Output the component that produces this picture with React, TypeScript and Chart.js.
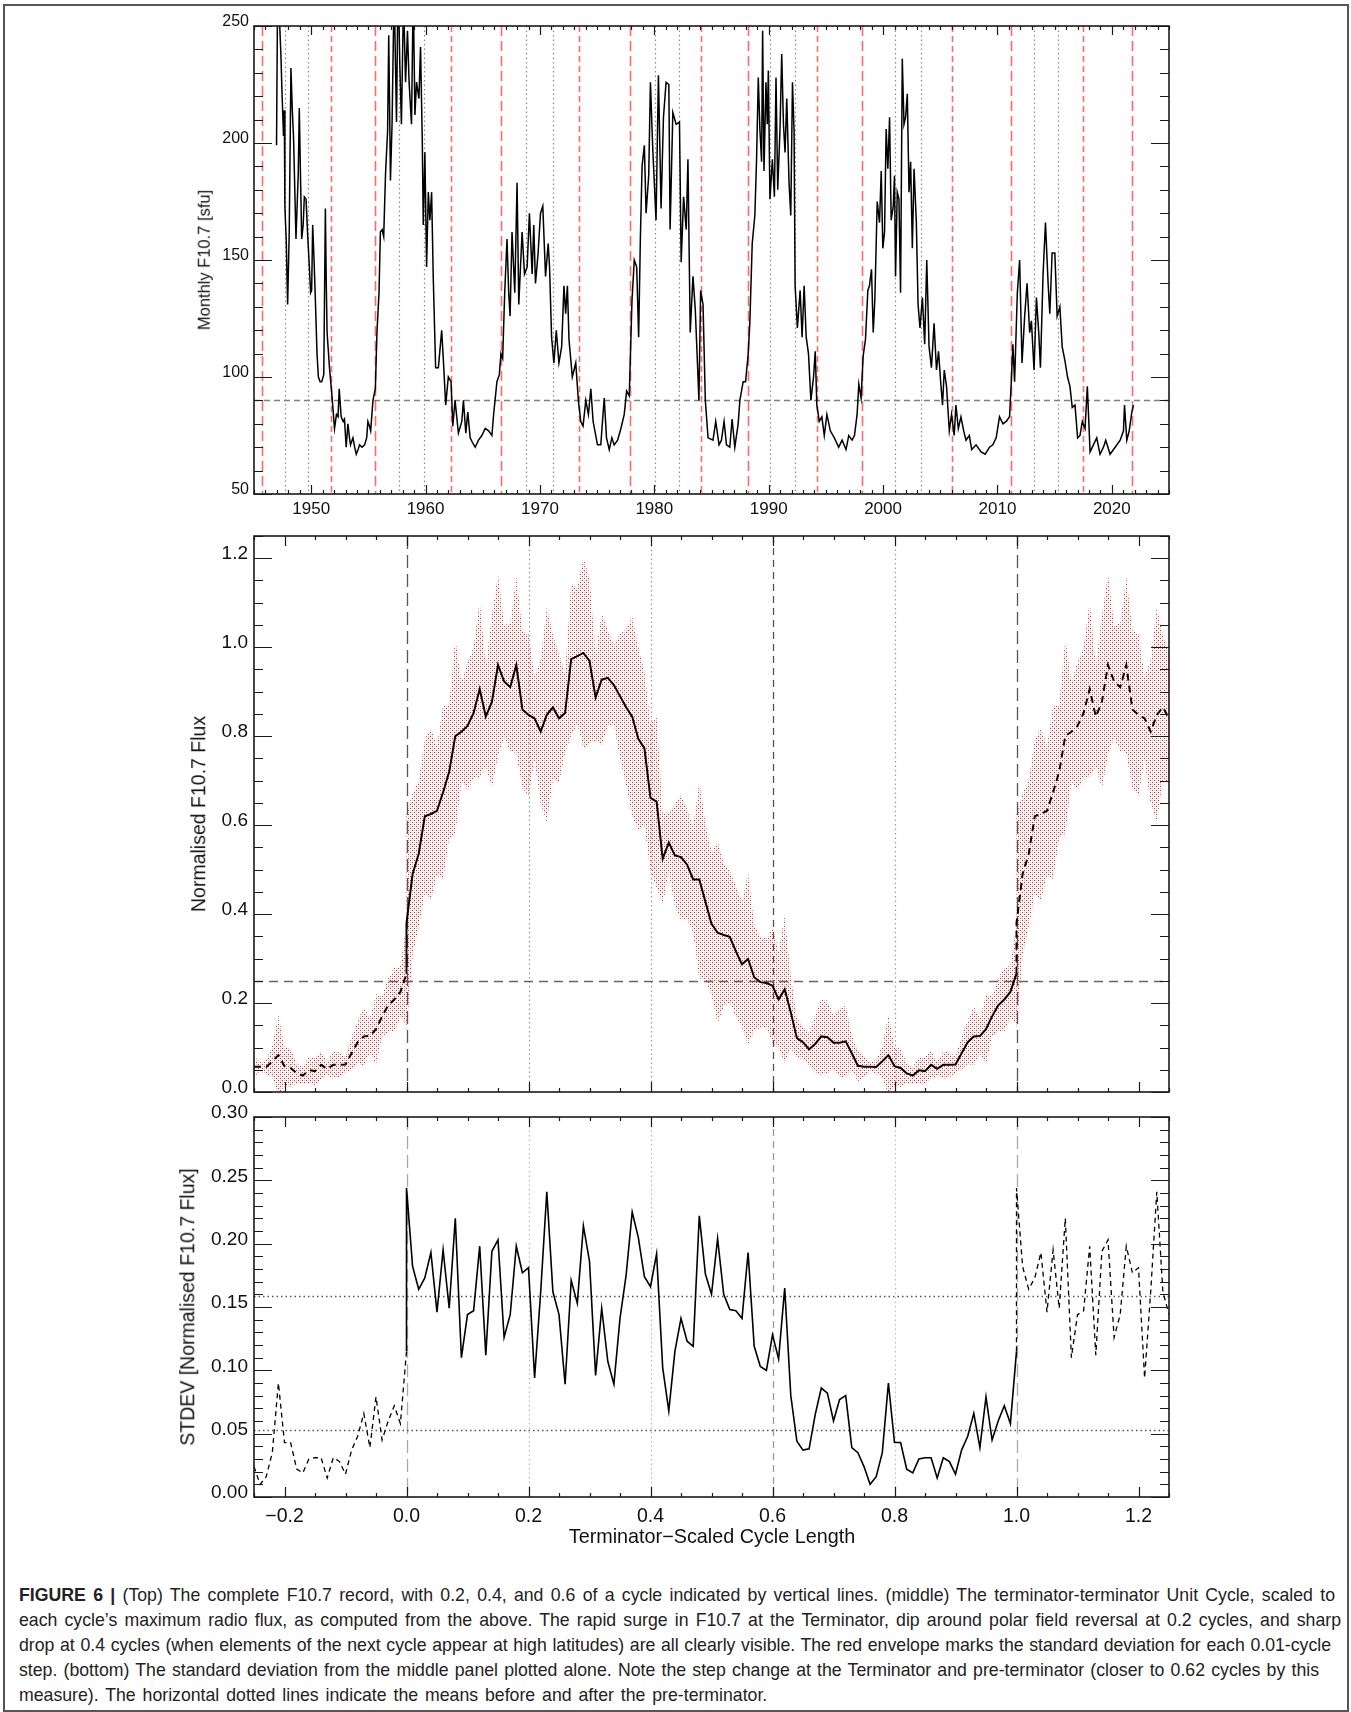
import React, { useEffect, useRef } from 'react';
import { Chart, registerables } from 'chart.js';

Chart.register(...registerables);

// ---------------- DATA ----------------
// Top panel: monthly F10.7 record
const f107Year = [
  1946.97, 1947.06, 1947.2, 1947.35, 1947.44, 1947.58, 1947.65, 1947.7, 1947.82, 1947.94,
  1948.08, 1948.23, 1948.35, 1948.46, 1948.67, 1948.87, 1948.96, 1949.05, 1949.17, 1949.3,
  1949.4, 1949.55, 1949.7, 1949.84, 1949.95, 1950.04, 1950.13, 1950.25, 1950.34, 1950.51,
  1950.63, 1950.78, 1950.92, 1951.1, 1951.24, 1951.32, 1951.39, 1951.6, 1951.8, 1952.04,
  1952.21, 1952.35, 1952.45, 1952.62, 1952.8, 1952.91, 1953.06, 1953.21, 1953.35, 1953.44,
  1953.65, 1953.8, 1953.94, 1954.1, 1954.23, 1954.45, 1954.67, 1954.85, 1954.96, 1955.1,
  1955.2, 1955.4, 1955.61, 1955.75, 1955.93, 1956.05, 1956.2, 1956.34, 1956.5, 1956.68,
  1956.78, 1956.93, 1957.07, 1957.25, 1957.46, 1957.6, 1957.75, 1957.89, 1958.07, 1958.25,
  1958.42, 1958.56, 1958.77, 1958.92, 1959.07, 1959.21, 1959.42, 1959.56, 1959.71, 1959.8,
  1959.94, 1960.09, 1960.24, 1960.38, 1960.53, 1960.67, 1960.88, 1961.12, 1961.41, 1961.56,
  1961.76, 1961.99, 1962.23, 1962.38, 1962.58, 1962.87, 1963.17, 1963.31, 1963.52, 1963.69,
  1963.9, 1964.1, 1964.34, 1964.63, 1964.92, 1965.22, 1965.51, 1965.8, 1965.95, 1966.24,
  1966.45, 1966.59, 1966.74, 1966.92, 1967.12, 1967.27, 1967.39, 1967.56, 1967.8, 1968.0,
  1968.15, 1968.44, 1968.65, 1968.88, 1969.08, 1969.32, 1969.46, 1969.61, 1969.84, 1970.05,
  1970.25, 1970.49, 1970.72, 1970.84, 1971.02, 1971.22, 1971.43, 1971.66, 1971.9, 1972.1,
  1972.25, 1972.4, 1972.54, 1972.83, 1973.13, 1973.36, 1973.57, 1973.77, 1974.01, 1974.24,
  1974.45, 1974.65, 1975.03, 1975.32, 1975.62, 1975.82, 1976.06, 1976.29, 1976.49, 1976.79,
  1977.08, 1977.37, 1977.58, 1977.81, 1978.05, 1978.25, 1978.46, 1978.63, 1978.78, 1978.93,
  1979.13, 1979.28, 1979.51, 1979.66, 1979.86, 1980.15, 1980.36, 1980.59, 1980.8, 1981.03,
  1981.27, 1981.38, 1981.62, 1981.91, 1982.2, 1982.35, 1982.56, 1982.79, 1982.94, 1983.14,
  1983.38, 1983.58, 1983.73, 1983.9, 1984.05, 1984.26, 1984.46, 1984.7, 1985.13, 1985.37,
  1985.66, 1985.87, 1986.1, 1986.31, 1986.6, 1986.8, 1987.04, 1987.33, 1987.48, 1987.77,
  1987.98, 1988.21, 1988.35, 1988.56, 1988.79, 1988.94, 1989.09, 1989.23, 1989.38, 1989.47,
  1989.59, 1989.76, 1989.88, 1989.97, 1990.11, 1990.32, 1990.5, 1990.64, 1990.79, 1990.99,
  1991.14, 1991.29, 1991.43, 1991.58, 1991.78, 1991.93, 1992.08, 1992.22, 1992.31, 1992.51,
  1992.75, 1992.92, 1993.1, 1993.28, 1993.48, 1993.69, 1993.92, 1994.07, 1994.21, 1994.42,
  1994.65, 1994.86, 1995.09, 1995.39, 1995.74, 1996.12, 1996.42, 1996.76, 1997.0, 1997.29,
  1997.5, 1997.73, 1997.88, 1998.08, 1998.26, 1998.46, 1998.67, 1998.81, 1998.99, 1999.14,
  1999.28, 1999.49, 1999.69, 1999.84, 1999.98, 2000.13, 2000.27, 2000.42, 2000.57, 2000.71,
  2000.89, 2001.0, 2001.09, 2001.24, 2001.39, 2001.53, 2001.68, 2001.83, 2001.97, 2002.12,
  2002.27, 2002.41, 2002.56, 2002.71, 2002.91, 2003.06, 2003.23, 2003.44, 2003.64, 2003.82,
  2004.02, 2004.23, 2004.46, 2004.67, 2004.85, 2005.05, 2005.2, 2005.35, 2005.55, 2005.79,
  2005.99, 2006.22, 2006.37, 2006.58, 2006.81, 2007.05, 2007.25, 2007.54, 2007.75, 2008.13,
  2008.57, 2008.93, 2009.31, 2009.6, 2009.89, 2010.18, 2010.48, 2010.77, 2011.06, 2011.21,
  2011.35, 2011.5, 2011.74, 2011.94, 2012.15, 2012.38, 2012.59, 2012.82, 2012.97, 2013.2,
  2013.41, 2013.61, 2013.76, 2013.99, 2014.2, 2014.43, 2014.58, 2014.78, 2015.02, 2015.22,
  2015.46, 2015.66, 2015.9, 2016.13, 2016.34, 2016.54, 2016.78, 2017.01, 2017.22, 2017.42,
  2017.66, 2017.86, 2018.1, 2018.39, 2018.68, 2018.97, 2019.27, 2019.47, 2019.85, 2020.29,
  2020.73, 2021.02, 2021.11, 2021.31, 2021.52, 2021.75, 2021.9,
];
const f107Flux = [
  199, 262, 256, 238, 223, 203, 214, 173, 158, 131,
  162, 232, 214, 202, 159, 187, 215, 190, 159, 165,
  177, 176, 160, 147, 136, 137, 165, 150, 137, 110,
  100, 98, 98, 101, 172, 140, 119, 104, 93, 78,
  84, 83, 95, 83, 81, 82, 70, 80, 74, 71,
  74, 70, 67, 69, 71, 70, 71, 74, 81, 79,
  77, 90, 95, 119, 136, 162, 163, 160, 187, 205,
  246, 184, 208, 266, 209, 272, 233, 208, 262, 226,
  248, 226, 208, 265, 212, 226, 219, 241, 202, 165,
  196, 147, 179, 167, 179, 143, 104, 104, 120, 107,
  88, 100, 98, 79, 90, 76, 81, 90, 76, 85,
  74, 72, 70, 73, 75, 78, 77, 75, 84, 98,
  101, 110, 108, 136, 159, 136, 126, 162, 136, 183,
  131, 162, 144, 147, 170, 144, 165, 140, 153, 170,
  173, 143, 157, 147, 117, 106, 120, 106, 113, 139,
  127, 139, 116, 100, 106, 90, 81, 79, 90, 84,
  95, 81, 71, 71, 91, 74, 69, 74, 71, 73,
  78, 84, 94, 92, 133, 150, 147, 117, 159, 190,
  199, 170, 186, 226, 198, 167, 229, 172, 211, 226,
  225, 163, 213, 208, 209, 149, 177, 163, 193, 119,
  143, 129, 111, 90, 137, 131, 90, 74, 73, 81,
  71, 73, 81, 71, 70, 82, 70, 80, 90, 98,
  98, 110, 123, 157, 169, 193, 228, 206, 192, 248,
  188, 226, 208, 231, 176, 193, 177, 228, 180, 206,
  238, 208, 196, 219, 183, 169, 226, 205, 139, 121,
  137, 117, 139, 117, 110, 90, 100, 111, 88, 81,
  83, 75, 84, 77, 74, 70, 73, 69, 75, 73,
  75, 84, 97, 91, 109, 116, 137, 139, 146, 119,
  133, 175, 166, 188, 155, 162, 206, 189, 211, 167,
  173, 186, 143, 179, 176, 136, 236, 208, 211, 221,
  179, 192, 155, 189, 166, 131, 121, 134, 114, 150,
  113, 104, 123, 103, 111, 97, 88, 103, 96, 77,
  84, 75, 88, 78, 83, 77, 73, 75, 69, 71,
  68, 67, 70, 71, 74, 83, 80, 81, 83, 98,
  114, 98, 136, 150, 106, 126, 140, 119, 124, 103,
  134, 119, 104, 144, 166, 140, 127, 153, 153, 126,
  130, 113, 107, 100, 96, 87, 88, 74, 75, 81,
  78, 96, 68, 71, 74, 67, 70, 73, 67, 70,
  73, 77, 88, 73, 77, 85, 88,
];
const terminatorYears = [1945.7, 1955.6, 1966.6, 1977.9, 1988.2, 1998.2, 2011.2, 2021.8];
const preTerminatorYears = [1951.7, 1962.2, 1973.4, 1984.1, 1994.2, 2006.0, 2017.5];
const cycleFractionYears = [1947.7, 1949.7, 1957.7, 1959.9, 1968.8, 1971.1, 1980.1, 1982.2, 1990.1, 1992.3, 2001.0, 2003.3, 2013.2, 2015.3];
const fluxReferenceLevel = 90;
const yearTicks = [1950, 1960, 1970, 1980, 1990, 2000, 2010, 2020];
const fluxTicks = [50, 100, 150, 200, 250];

// Middle + bottom panels: unit cycle, 0.01-cycle steps from 0.00 to 1.00
const phaseStep = 0.01;
const unitCycleMean = [
  0.38, 0.49, 0.535, 0.62, 0.625, 0.632, 0.674, 0.72, 0.80, 0.81,
  0.823, 0.852, 0.906, 0.844, 0.877, 0.96, 0.923, 0.91, 0.96, 0.86,
  0.848, 0.84, 0.81, 0.848, 0.865, 0.84, 0.852, 0.973, 0.98, 0.987,
  0.969, 0.887, 0.927, 0.931, 0.915, 0.89, 0.865, 0.844, 0.794, 0.773,
  0.661, 0.653, 0.524, 0.561, 0.532, 0.528, 0.511, 0.478, 0.478, 0.428,
  0.378, 0.358, 0.353, 0.349, 0.316, 0.287, 0.299, 0.258, 0.247, 0.245,
  0.239, 0.208, 0.231, 0.179, 0.121, 0.112, 0.096, 0.108, 0.125, 0.123,
  0.111, 0.111, 0.114, 0.087, 0.059, 0.057, 0.057, 0.056, 0.069, 0.083,
  0.058, 0.054, 0.042, 0.037, 0.049, 0.047, 0.061, 0.052, 0.061, 0.061,
  0.062, 0.087, 0.112, 0.125, 0.126, 0.141, 0.17, 0.195, 0.208, 0.225,
  0.266,
];
const unitCycleStd = [
  0.244, 0.182, 0.164, 0.173, 0.193, 0.146, 0.195, 0.149, 0.220, 0.110,
  0.144, 0.147, 0.198, 0.112, 0.194, 0.203, 0.126, 0.144, 0.198, 0.177,
  0.181, 0.094, 0.162, 0.241, 0.162, 0.144, 0.089, 0.171, 0.153, 0.214,
  0.186, 0.096, 0.149, 0.107, 0.089, 0.141, 0.175, 0.225, 0.205, 0.174,
  0.166, 0.192, 0.102, 0.068, 0.115, 0.141, 0.123, 0.119, 0.222, 0.176,
  0.160, 0.204, 0.160, 0.148, 0.147, 0.141, 0.193, 0.119, 0.103, 0.100,
  0.128, 0.109, 0.165, 0.080, 0.044, 0.037, 0.038, 0.065, 0.086, 0.082,
  0.060, 0.077, 0.080, 0.039, 0.035, 0.024, 0.010, 0.016, 0.035, 0.090,
  0.043, 0.043, 0.022, 0.019, 0.030, 0.031, 0.031, 0.015, 0.031, 0.028,
  0.018, 0.037, 0.048, 0.066, 0.039, 0.079, 0.045, 0.060, 0.072, 0.058,
  0.115,
];
const stdMeanBeforePreTerminator = 0.159;
const stdMeanAfterPreTerminator = 0.053;
const normalisedReferenceLevel = 0.25;
const phaseTicks = [-0.2, 0, 0.2, 0.4, 0.6, 0.8, 1.0, 1.2];
const normalisedTicks = [0, 0.2, 0.4, 0.6, 0.8, 1.0, 1.2];
const stdTicks = [0, 0.05, 0.1, 0.15, 0.2, 0.25, 0.3];
const terminatorPhases = [0, 1.0];
const preTerminatorPhases = [0.6];
const fractionPhases = [0.2, 0.4, 0.8];

const captionLines = [
  '(Top) The complete F10.7 record, with 0.2, 0.4, and 0.6 of a cycle indicated by vertical lines. (middle) The terminator-terminator Unit Cycle, scaled to',
  'each cycle\u2019s maximum radio flux, as computed from the above. The rapid surge in F10.7 at the Terminator, dip around polar field reversal at 0.2 cycles, and sharp',
  'drop at 0.4 cycles (when elements of the next cycle appear at high latitudes) are all clearly visible. The red envelope marks the standard deviation for each 0.01-cycle',
  'step. (bottom) The standard deviation from the middle panel plotted alone. Note the step change at the Terminator and pre-terminator (closer to 0.62 cycles by this',
  'measure). The horizontal dotted lines indicate the means before and after the pre-terminator.',
];

// ---------------- HELPERS ----------------
const FONT = '"Liberation Sans", Arial, Helvetica, sans-serif';

interface RefLine { value: number; color: string; dash: number[]; width: number }
interface FrameCfg {
  xMajor: number[]; xMinor: number[]; yMajor: number[]; yMinor: number[];
  xMajorLen: number; xMinorLen: number; yMajorLen: number; yMinorLen: number;
  vlines: RefLine[]; hlines: RefLine[];
}

function range(start: number, end: number, step: number): number[] {
  const out: number[] = [];
  const n = Math.round((end - start) / step);
  for (let i = 0; i <= n; i++) out.push(Math.round((start + i * step) * 1000) / 1000);
  return out;
}

function makeFramePlugin(cfg: FrameCfg) {
  return {
    id: 'idlFrame',
    beforeDatasetsDraw(chart: any) {
      const { ctx, chartArea: a } = chart;
      const xs = chart.scales.x, ys = chart.scales.y;
      ctx.save();
      ctx.beginPath();
      ctx.rect(a.left, a.top, a.right - a.left, a.bottom - a.top);
      ctx.clip();
      for (const l of cfg.vlines) {
        const px = Math.round(xs.getPixelForValue(l.value)) + 0.5;
        ctx.beginPath();
        ctx.strokeStyle = l.color; ctx.lineWidth = l.width; ctx.setLineDash(l.dash);
        ctx.moveTo(px, a.top); ctx.lineTo(px, a.bottom); ctx.stroke();
      }
      for (const l of cfg.hlines) {
        const py = Math.round(ys.getPixelForValue(l.value)) + 0.5;
        ctx.beginPath();
        ctx.strokeStyle = l.color; ctx.lineWidth = l.width; ctx.setLineDash(l.dash);
        ctx.moveTo(a.left, py); ctx.lineTo(a.right, py); ctx.stroke();
      }
      ctx.restore();
    },
    afterDatasetsDraw(chart: any) {
      const { ctx, chartArea: a } = chart;
      const xs = chart.scales.x, ys = chart.scales.y;
      ctx.save();
      ctx.setLineDash([]);
      ctx.strokeStyle = '#1a1a1a';
      ctx.lineWidth = 1.2;
      ctx.beginPath();
      const xt = (vals: number[], len: number) => {
        for (const v of vals) {
          const px = Math.round(xs.getPixelForValue(v)) + 0.5;
          ctx.moveTo(px, a.bottom); ctx.lineTo(px, a.bottom - len);
          ctx.moveTo(px, a.top); ctx.lineTo(px, a.top + len);
        }
      };
      const yt = (vals: number[], len: number) => {
        for (const v of vals) {
          const py = Math.round(ys.getPixelForValue(v)) + 0.5;
          ctx.moveTo(a.left, py); ctx.lineTo(a.left + len, py);
          ctx.moveTo(a.right, py); ctx.lineTo(a.right - len, py);
        }
      };
      xt(cfg.xMajor, cfg.xMajorLen); xt(cfg.xMinor, cfg.xMinorLen);
      yt(cfg.yMajor, cfg.yMajorLen); yt(cfg.yMinor, cfg.yMinorLen);
      ctx.stroke();
      ctx.lineWidth = 1.6;
      ctx.strokeRect(a.left, a.top, a.right - a.left, a.bottom - a.top);
      ctx.restore();
    },
  };
}

interface AxisSpec {
  min: number; max: number; ticks: number[]; fmt: (v: number) => string;
  size: number; font: number; padding: number; labelOffset: number; show: boolean;
}
function linearAxis(horizontal: boolean, s: AxisSpec): any {
  return {
    type: 'linear',
    position: horizontal ? 'bottom' : 'left',
    min: s.min, max: s.max,
    grid: { display: false, drawTicks: false },
    border: { display: false },
    afterBuildTicks: (scale: any) => { scale.ticks = s.ticks.map((v) => ({ value: v })); },
    afterFit: (scale: any) => { if (horizontal) scale.height = s.size; else scale.width = s.size; },
    ticks: {
      display: s.show, autoSkip: false, maxRotation: 0, minRotation: 0,
      padding: s.padding, labelOffset: s.labelOffset, color: '#111',
      font: { family: FONT, size: s.font },
      callback: (v: any) => s.fmt(Number(v)),
    },
  };
}

const phaseAt = (i: number, shift: number) => Math.round((i * phaseStep + shift) * 100) / 100;
function segment(vals: number[], from: number, to: number, shift: number) {
  const out: { x: number; y: number }[] = [];
  for (let i = from; i <= to; i++) out.push({ x: phaseAt(i, shift), y: vals[i] });
  return out;
}
// Points of the unit cycle repeated on both sides: (index, shift)
function wrappedIndices(): [number, number][] {
  const out: [number, number][] = [];
  for (let i = 75; i <= 100; i++) out.push([i, -1]);
  for (let i = 0; i <= 100; i++) out.push([i, 0]);
  for (let i = 0; i <= 25; i++) out.push([i, 1]);
  return out;
}

function makeStipple(ctx: CanvasRenderingContext2D): CanvasPattern | string {
  const pc = document.createElement('canvas');
  pc.width = 4; pc.height = 4;
  const p = pc.getContext('2d');
  if (!p) return 'rgba(255,80,80,0.35)';
  p.fillStyle = 'rgba(255,0,0,0.9)';
  p.fillRect(0, 0, 1, 1); p.fillRect(2, 2, 1, 1);
  p.fillStyle = 'rgba(255,60,60,0.35)';
  p.fillRect(2, 0, 1, 1); p.fillRect(0, 2, 1, 1);
  return ctx.createPattern(pc, 'repeat') || 'rgba(255,80,80,0.35)';
}

const baseOptions = (padding: any) => ({
  responsive: false,
  animation: false as const,
  devicePixelRatio: 1,
  events: [] as any[],
  layout: { padding },
  plugins: { legend: { display: false }, tooltip: { enabled: false } },
});

const phaseFmt = (v: number) => (v < -1e-9 ? '\u2212' + Math.abs(v).toFixed(1) : Math.abs(v).toFixed(1));

// ---------------- COMPONENT ----------------
export default function App() {
  const topRef = useRef<HTMLCanvasElement>(null);
  const midRef = useRef<HTMLCanvasElement>(null);
  const botRef = useRef<HTMLCanvasElement>(null);

  useEffect(() => {
    const charts: Chart[] = [];

    // ---- top panel ----
    const topPlugin = makeFramePlugin({
      xMajor: yearTicks, xMinor: range(1945, 2025, 1), yMajor: fluxTicks, yMinor: range(50, 250, 10),
      xMajorLen: 9, xMinorLen: 4, yMajorLen: 18, yMinorLen: 9,
      vlines: [
        ...cycleFractionYears.map((v) => ({ value: v, color: '#8a8a8a', dash: [1.5, 3], width: 1.2 })),
        ...terminatorYears.map((v) => ({ value: v, color: 'rgba(255,90,90,0.9)', dash: [10, 5], width: 1.6 })),
        ...preTerminatorYears.map((v) => ({ value: v, color: 'rgba(255,90,90,0.9)', dash: [6, 4], width: 1.6 })),
      ],
      hlines: [{ value: fluxReferenceLevel, color: '#808080', dash: [6, 4], width: 1.3 }],
    });
    charts.push(new Chart(topRef.current as HTMLCanvasElement, {
      type: 'line',
      data: {
        datasets: [{
          data: f107Year.map((x, i) => ({ x, y: f107Flux[i] })),
          borderColor: '#000', borderWidth: 1.5, pointRadius: 0, tension: 0,
        }],
      },
      options: {
        ...baseOptions({ left: 0, right: 182, top: 26, bottom: 0 }),
        scales: {
          x: linearAxis(true, { min: 1945, max: 2025, ticks: yearTicks, fmt: (v) => String(v), size: 36, font: 17, padding: 5, labelOffset: 0, show: true }),
          y: linearAxis(false, { min: 50, max: 250, ticks: fluxTicks, fmt: (v) => String(v), size: 254, font: 16, padding: 5, labelOffset: -4, show: true }),
        },
      } as any,
      plugins: [topPlugin],
    } as any));

    // ---- middle panel ----
    const midCanvas = midRef.current as HTMLCanvasElement;
    const midCtx = midCanvas.getContext('2d') as CanvasRenderingContext2D;
    const stipple = makeStipple(midCtx);
    const wrap = wrappedIndices();
    const envUpper = wrap.map(([i, s]) => ({ x: phaseAt(i, s), y: unitCycleMean[i] + unitCycleStd[i] }));
    const envLower = wrap.map(([i, s]) => ({ x: phaseAt(i, s), y: unitCycleMean[i] - unitCycleStd[i] }));
    const meanMain = [{ x: 0, y: unitCycleMean[100] }, ...segment(unitCycleMean, 0, 100, 0)];
    const meanLeft = segment(unitCycleMean, 75, 100, -1);
    const meanRight = [{ x: 1, y: unitCycleMean[100] }, ...segment(unitCycleMean, 0, 25, 1)];

    const phaseVlines = (termColor: string, preColor: string, fracColor: string) => [
      ...fractionPhases.map((v) => ({ value: v, color: fracColor, dash: [1.5, 3], width: 1.2 })),
      ...terminatorPhases.map((v) => ({ value: v, color: termColor, dash: [13, 6], width: 1.3 })),
      ...preTerminatorPhases.map((v) => ({ value: v, color: preColor, dash: [7, 5], width: 1.3 })),
    ];

    const midPlugin = makeFramePlugin({
      xMajor: phaseTicks, xMinor: range(-0.25, 1.25, 0.05), yMajor: normalisedTicks, yMinor: range(0, 1.25, 0.05),
      xMajorLen: 10, xMinorLen: 4, yMajorLen: 18, yMinorLen: 9,
      vlines: phaseVlines('#555', '#555', '#999'),
      hlines: [{ value: normalisedReferenceLevel, color: '#666', dash: [9, 6], width: 1.3 }],
    });
    const blackSolid = { borderColor: '#000', borderWidth: 2, pointRadius: 0, tension: 0, fill: false };
    const blackDash = { ...blackSolid, borderDash: [7, 5] };
    charts.push(new Chart(midCanvas, {
      type: 'line',
      data: {
        datasets: [
          { data: meanMain, ...blackSolid },
          { data: meanLeft, ...blackDash },
          { data: meanRight, ...blackDash },
          { data: envUpper, borderColor: 'rgba(0,0,0,0)', borderWidth: 0, pointRadius: 0, tension: 0, fill: '+1', backgroundColor: stipple },
          { data: envLower, borderColor: 'rgba(0,0,0,0)', borderWidth: 0, pointRadius: 0, tension: 0, fill: false },
        ],
      },
      options: {
        ...baseOptions({ left: 0, right: 182, top: 26, bottom: 0 }),
        scales: {
          x: linearAxis(true, { min: -0.25, max: 1.25, ticks: phaseTicks, fmt: phaseFmt, size: 22, font: 19, padding: 6, labelOffset: 0, show: false }),
          y: linearAxis(false, { min: 0, max: 1.25, ticks: normalisedTicks, fmt: (v) => v.toFixed(1), size: 254, font: 19, padding: 6, labelOffset: -4, show: true }),
        },
      } as any,
      plugins: [midPlugin],
    } as any));

    // ---- bottom panel ----
    const stdMain = [{ x: 0, y: unitCycleStd[100] }, ...segment(unitCycleStd, 0, 100, 0)];
    const stdLeft = segment(unitCycleStd, 75, 100, -1);
    const stdRight = [{ x: 1, y: unitCycleStd[100] }, ...segment(unitCycleStd, 0, 25, 1)];
    const botPlugin = makeFramePlugin({
      xMajor: phaseTicks, xMinor: range(-0.25, 1.25, 0.05), yMajor: stdTicks, yMinor: range(0, 0.3, 0.01),
      xMajorLen: 10, xMinorLen: 4, yMajorLen: 18, yMinorLen: 9,
      vlines: phaseVlines('#aaa', '#999', '#bbb'),
      hlines: [
        { value: stdMeanBeforePreTerminator, color: '#555', dash: [1.5, 3], width: 1.3 },
        { value: stdMeanAfterPreTerminator, color: '#555', dash: [1.5, 3], width: 1.3 },
      ],
    });
    const thinSolid = { borderColor: '#000', borderWidth: 1.6, pointRadius: 0, tension: 0, fill: false };
    const thinDash = { ...thinSolid, borderWidth: 1.3, borderDash: [5, 4] };
    charts.push(new Chart(botRef.current as HTMLCanvasElement, {
      type: 'line',
      data: {
        datasets: [
          { data: stdMain, ...thinSolid },
          { data: stdLeft, ...thinDash },
          { data: stdRight, ...thinDash },
        ],
      },
      options: {
        ...baseOptions({ left: 0, right: 182, top: 27, bottom: 0 }),
        scales: {
          x: linearAxis(true, { min: -0.25, max: 1.25, ticks: phaseTicks, fmt: phaseFmt, size: 63, font: 19.5, padding: 8, labelOffset: 0, show: true }),
          y: linearAxis(false, { min: 0, max: 0.3, ticks: stdTicks, fmt: (v) => v.toFixed(2), size: 254, font: 19, padding: 6, labelOffset: -4, show: true }),
        },
      } as any,
      plugins: [botPlugin],
    } as any));

    return () => { charts.forEach((c) => c.destroy()); };
  }, []);

  const abs = (left: number, top: number, w: number, h: number): React.CSSProperties => ({
    position: 'absolute', left, top, width: w, height: h,
  });
  const vTitle = (text: string, cx: number, cy: number, size: number) => (
    <div style={{
      position: 'absolute', left: cx, top: cy, transform: 'translate(-50%, -50%) rotate(-90deg)',
      whiteSpace: 'nowrap', fontFamily: FONT, fontSize: size, color: '#111', lineHeight: 1,
    }}>{text}</div>
  );
  const captionWidths = [1316, 1322, 1312, 1300];

  return (
    <div style={{ position: 'absolute', left: 0, top: 0, width: 1351, height: 1712, background: '#fff', overflow: 'hidden' }}>
      <div style={{ position: 'absolute', left: 3, top: 4, width: 1342, height: 1704, border: '2px solid #555' }} />
      <canvas ref={topRef} width={1351} height={530} style={abs(0, 0, 1351, 530)} />
      <canvas ref={midRef} width={1351} height={604} style={abs(0, 510, 1351, 604)} />
      <canvas ref={botRef} width={1351} height={470} style={abs(0, 1090, 1351, 470)} />
      {vTitle('Monthly F10.7 [sfu]', 204, 260, 16.5)}
      {vTitle('Normalised F10.7 Flux', 199, 814, 19.5)}
      {vTitle('STDEV [Normalised F10.7 Flux]', 188, 1307, 19.5)}
      <div style={{
        position: 'absolute', left: 712, top: 1537, transform: 'translate(-50%, -50%)',
        whiteSpace: 'nowrap', fontFamily: FONT, fontSize: 19.8, color: '#111', lineHeight: 1,
      }}>Terminator{'\u2212'}Scaled Cycle Length</div>
      <div style={{ position: 'absolute', left: 19, top: 1583, fontFamily: FONT, fontSize: 17.7, lineHeight: '25px', color: '#222' }}>
        {captionLines.map((line, i) => (
          <div key={i} style={{
            whiteSpace: 'nowrap',
            width: i < captionWidths.length ? captionWidths[i] : undefined,
            textAlign: i < captionWidths.length ? 'justify' : 'left',
            textAlignLast: i < captionWidths.length ? 'justify' : 'left',
            wordSpacing: i < captionWidths.length ? undefined : 2,
          } as React.CSSProperties}>
            {i === 0 ? <b>FIGURE 6 | </b> : null}{line}
          </div>
        ))}
      </div>
    </div>
  );
}
